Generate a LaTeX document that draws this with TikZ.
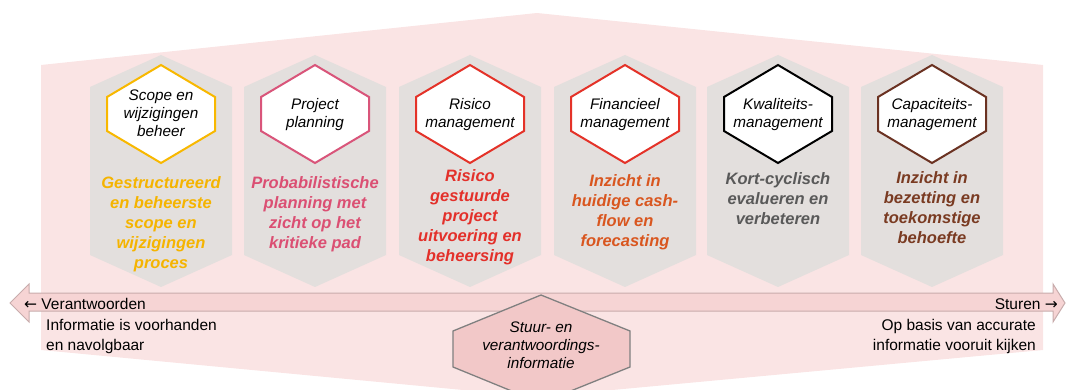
\documentclass[tikz,border=0pt]{standalone}
\usepackage{fontspec}
\setmainfont{Liberation Sans}
\newfontfamily\pijlfont{DejaVu Sans}
\usetikzlibrary{positioning}

\definecolor{achtergrond}{RGB}{250,228,228}
\definecolor{bandroze}{RGB}{246,212,212}
\definecolor{bandrand}{RGB}{200,172,172}
\definecolor{stuurroze}{RGB}{242,200,200}
\definecolor{hexgrijs}{RGB}{227,223,221}
\definecolor{rand1}{RGB}{248,184,0}
\definecolor{rand2}{RGB}{217,85,122}
\definecolor{rand3}{RGB}{228,50,40}
\definecolor{rand6}{RGB}{107,50,34}
\definecolor{tekst1}{RGB}{245,180,0}
\definecolor{tekst2}{RGB}{219,79,115}
\definecolor{tekst3}{RGB}{227,48,42}
\definecolor{tekst4}{RGB}{217,86,31}
\definecolor{tekst5}{RGB}{89,89,89}
\definecolor{tekst6}{RGB}{122,59,34}

\begin{document}
\begin{tikzpicture}[x=1pt,y=-1pt,
                    grijs/.style={fill=hexgrijs},
                    wit/.style={fill=white,line width=2pt,line join=miter},
                    titel/.style={font=\fontsize{15.3}{18}\selectfont\itshape,align=center,inner sep=0pt},
                    uitleg/.style={font=\fontsize{16.5}{20}\selectfont\bfseries\itshape,align=center,anchor=north,inner sep=0pt},
                    tekst/.style={font=\fontsize{15.5}{20}\selectfont,inner sep=0pt}]

\useasboundingbox (0,0) rectangle (1066,390);
\clip (0,0) rectangle (1066,390);

% achtergrond en band
\fill[achtergrond] (41,65) -- (537,13) -- (1043,65) -- (1043,350) -- (537,397) -- (41,350) -- cycle;
\draw[fill=bandroze,draw=bandrand,line width=1pt] (10,303) -- (29,284) -- (29,293) -- (1053,293) -- (1053,284)
  -- (1065,303) -- (1053,322) -- (1053,311) -- (29,311) -- (29,322) -- cycle;


% kolommen
\fill[grijs] (161,55) -- ++(71,32) -- ++(0,168) -- ++(-71,32) -- ++(-71,-32) -- ++(0,-168) -- cycle;
\fill[grijs] (315,55) -- ++(71,32) -- ++(0,168) -- ++(-71,32) -- ++(-71,-32) -- ++(0,-168) -- cycle;
\fill[grijs] (470,55) -- ++(71,32) -- ++(0,168) -- ++(-71,32) -- ++(-71,-32) -- ++(0,-168) -- cycle;
\fill[grijs] (625,55) -- ++(71,32) -- ++(0,168) -- ++(-71,32) -- ++(-71,-32) -- ++(0,-168) -- cycle;
\fill[grijs] (778,55) -- ++(71,32) -- ++(0,168) -- ++(-71,32) -- ++(-71,-32) -- ++(0,-168) -- cycle;
\fill[grijs] (932,55) -- ++(71,32) -- ++(0,168) -- ++(-71,32) -- ++(-71,-32) -- ++(0,-168) -- cycle;


\draw[wit,draw=rand1] (161,65) -- ++(54,32) -- ++(0,34) -- ++(-54,32) -- ++(-54,-32) -- ++(0,-34) -- cycle;
\draw[wit,draw=rand2] (315,65) -- ++(54,32) -- ++(0,34) -- ++(-54,32) -- ++(-54,-32) -- ++(0,-34) -- cycle;
\draw[wit,draw=rand3] (470,65) -- ++(54,32) -- ++(0,34) -- ++(-54,32) -- ++(-54,-32) -- ++(0,-34) -- cycle;
\draw[wit,draw=rand3] (625,65) -- ++(54,32) -- ++(0,34) -- ++(-54,32) -- ++(-54,-32) -- ++(0,-34) -- cycle;
\draw[wit,draw=black] (778,65) -- ++(54,32) -- ++(0,34) -- ++(-54,32) -- ++(-54,-32) -- ++(0,-34) -- cycle;
\draw[wit,draw=rand6] (932,65) -- ++(54,32) -- ++(0,34) -- ++(-54,32) -- ++(-54,-32) -- ++(0,-34) -- cycle;


\node[titel] (1) at (161,113) {Scope en\\wijzigingen\\beheer};
\node[titel] (2) at (315,115) {Project\\planning};
\node[titel] (3) at (470,115) {Risico\\management};
\node[titel] (4) at (625,115) {Financieel\\management};
\node[titel] (5) at (778,115) {Kwaliteits-\\management};
\node[titel] (6) at (932,115) {Capaciteits-\\management};


\node[uitleg,text=tekst1] (u1) at (161,176) {Gestructureerd\\en beheerste\\scope en\\wijzigingen\\proces};
\node[uitleg,text=tekst2] (u2) at (315,176) {Probabilistische\\planning met\\zicht op het\\kritieke pad};
\node[uitleg,text=tekst3] (u3) at (470,169) {Risico\\gestuurde\\project\\uitvoering en\\beheersing};
\node[uitleg,text=tekst4] (u4) at (625,174) {Inzicht in\\huidige cash-\\flow en\\forecasting};
\node[uitleg,text=tekst5] (u5) at (778,172) {Kort-cyclisch\\evalueren en\\verbeteren};
\node[uitleg,text=tekst6] (u6) at (932,171) {Inzicht in\\bezetting en\\toekomstige\\behoefte};


% onderkant
\draw[fill=stuurroze,draw=gray,line width=1.3pt] (541,295) -- (630,331) -- (630,367) -- (541,403) -- (453,367) -- (453,331) -- cycle;
\node[titel] (7) at (541,345) {Stuur- en\\verantwoordings-\\informatie};

\node[tekst,anchor=west] (links) at (24,304) {{\pijlfont ←} Verantwoorden};
\node[tekst,anchor=north west,align=left] (linksuitleg) at (46,319) {Informatie is voorhanden\\en navolgbaar};
\node[tekst,anchor=east] (rechts) at (1058,304) {Sturen {\pijlfont →}};
\node[tekst,anchor=north east,align=right] (rechtsuitleg) at (1036,319) {Op basis van accurate\\informatie vooruit kijken};

\end{tikzpicture}
\end{document}
